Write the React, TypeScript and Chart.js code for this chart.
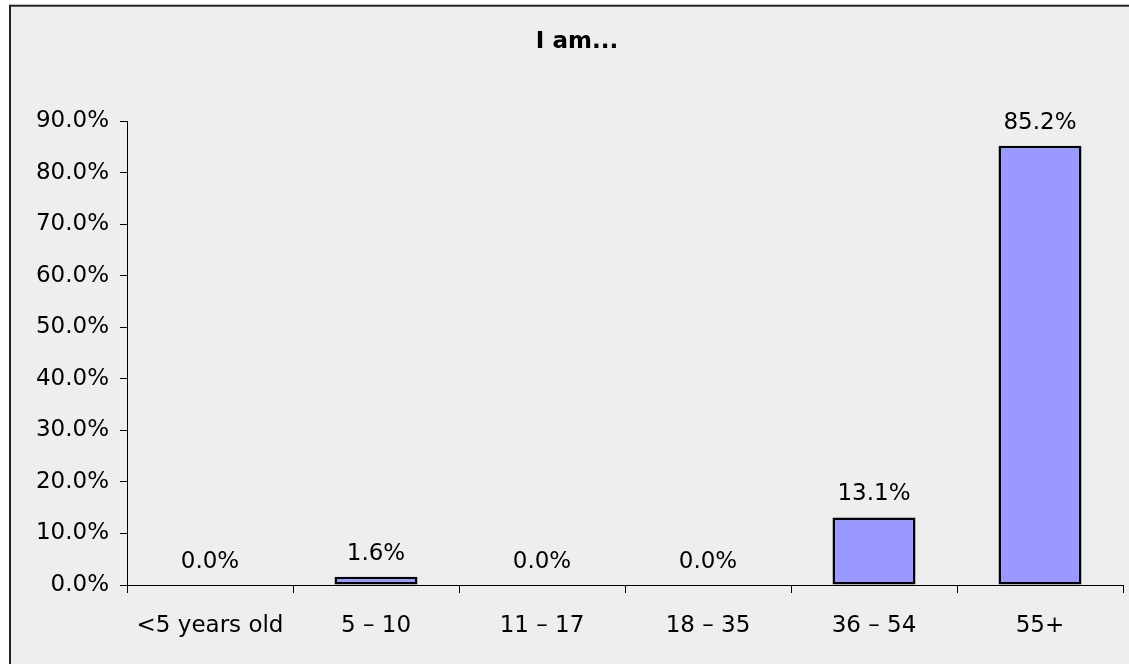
import React, { useEffect, useRef } from "react";
import { Chart, registerables } from "chart.js";

Chart.register(...registerables);

const categories = ["<5 years old", "5 – 10", "11 – 17", "18 – 35", "36 – 54", "55+"];
const values = [0.0, 1.6, 0.0, 0.0, 13.1, 85.2];
const chartTitle = "I am...";
const yMin = 0;
const yMax = 90;
const yStep = 10;

const FONT = "'DejaVu Sans', Tahoma, Verdana, sans-serif";

const framePlugin = {
  id: "frame",
  beforeDraw(chart: any) {
    const ctx = chart.ctx;
    ctx.save();
    ctx.fillStyle = "#ffffff";
    ctx.fillRect(0, 0, chart.width, chart.height);
    ctx.fillStyle = "#eeeeee";
    ctx.fillRect(10, 5.7, chart.width, chart.height);
    ctx.strokeStyle = "#222222";
    ctx.lineWidth = 2;
    ctx.strokeRect(10, 5.7, chart.width + 50, chart.height + 50);
    ctx.fillStyle = "#000000";
    ctx.font = "bold 23px " + FONT;
    ctx.textAlign = "center";
    ctx.textBaseline = "middle";
    ctx.fillText(chartTitle, 577, 42);
    ctx.restore();
  },
  afterDatasetsDraw(chart: any) {
    const ctx = chart.ctx;
    const meta = chart.getDatasetMeta(0);
    ctx.save();
    ctx.fillStyle = "#000000";
    ctx.font = "23px " + FONT;
    ctx.textAlign = "center";
    ctx.textBaseline = "alphabetic";
    meta.data.forEach((bar: any, i: number) => {
      ctx.fillText(values[i].toFixed(1) + "%", bar.x, bar.y - 17);
    });
    ctx.restore();
  },
};

export default function App() {
  const ref = useRef<HTMLCanvasElement | null>(null);
  useEffect(() => {
    document.body.style.overflow = "hidden";
    const canvas = ref.current!;
    const chart = new Chart(canvas, {
      type: "bar",
      data: {
        labels: categories,
        datasets: [
          {
            data: values,
            backgroundColor: "#9999ff",
            borderColor: "#000000",
            borderWidth: 2.5,
            borderSkipped: false,
            categoryPercentage: 1,
            barPercentage: 0.5,
          },
        ],
      },
      options: {
        animation: false,
        responsive: false,
        devicePixelRatio: 1,
        layout: { padding: { top: 121, left: 0, right: 6, bottom: 0 } },
        plugins: {
          legend: { display: false },
          title: { display: false },
          tooltip: { enabled: false },
        },
        scales: {
          x: {
            grid: {
              offset: true,
              drawOnChartArea: false,
              drawTicks: true,
              tickLength: 8,
              color: "#000000",
            },
            border: { display: true, color: "#000000", width: 1 },
            ticks: {
              color: "#000000",
              font: { family: FONT, size: 23 },
              padding: 19,
              maxRotation: 0,
              autoSkip: false,
            },
            afterFit(scale: any) {
              scale.height = 79;
            },
          },
          y: {
            min: yMin,
            max: yMax,
            grid: {
              drawOnChartArea: false,
              drawTicks: true,
              tickLength: 7,
              color: "#000000",
            },
            border: { display: true, color: "#000000", width: 1 },
            ticks: {
              stepSize: yStep,
              color: "#000000",
              font: { family: FONT, size: 23 },
              padding: 11,
              callback: (v: any) => Number(v).toFixed(1) + "%",
            },
            afterFit(scale: any) {
              scale.width = 127;
            },
          },
        },
      },
      plugins: [framePlugin],
    });
    return () => chart.destroy();
  }, []);
  return (
    <div style={{ position: "fixed", left: 0, top: 0, width: 1129, height: 664 }}>
      <canvas ref={ref} width={1129} height={664} style={{ display: "block" }} />
    </div>
  );
}
